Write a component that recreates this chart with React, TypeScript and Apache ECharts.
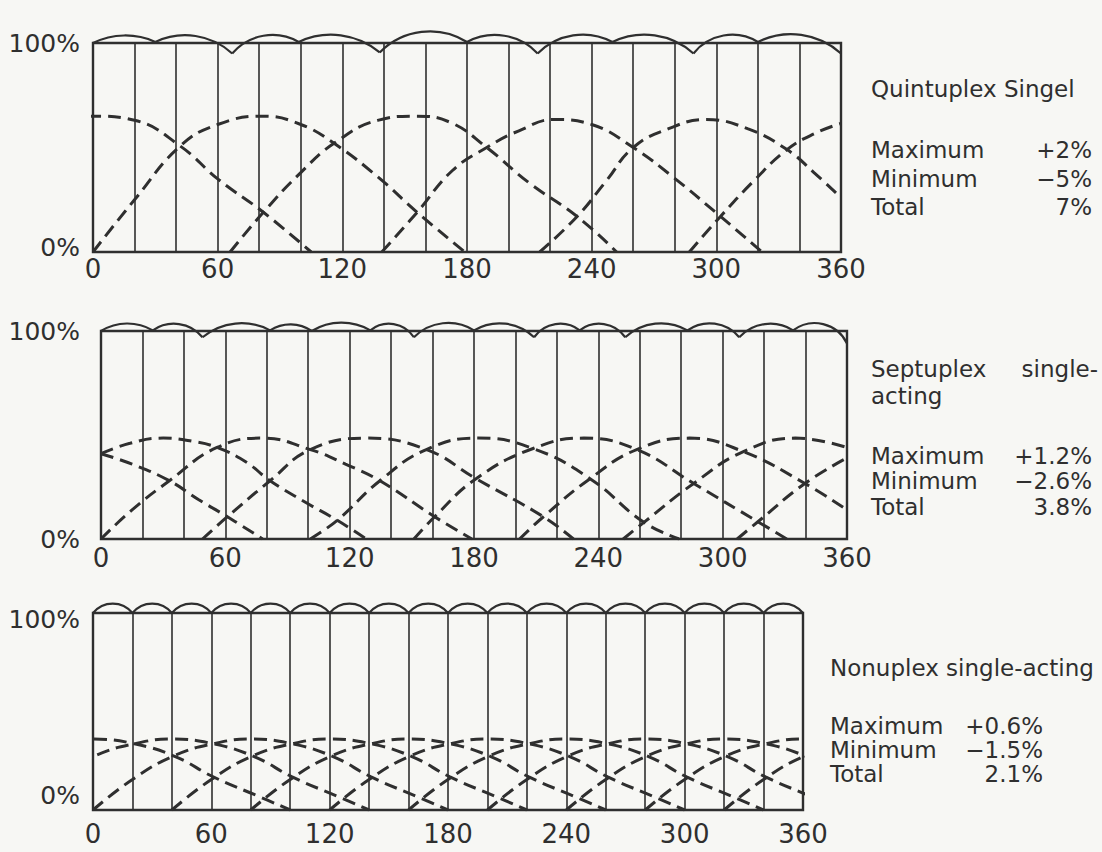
import React, { useEffect, useRef } from "react";
import * as echarts from "echarts";

const INK = "#2f2f2f";
const PAPER = "#f7f7f4";
const FONT = "DejaVu Sans, Verdana, sans-serif";

// Crank angle tick labels (degrees) and the two flow levels labelled on each panel
const angleTickLabels = [0, 60, 120, 180, 240, 300, 360];
const flowTickLabels = ["0%", "100%"];

// ---------- Quintuplex: individual cylinder flows (dashed) ----------
const quintLobes: number[][][] = [
  [[-12, 64], [0, 65], [20, 63], [42, 50.7], [60, 35], [82, 19], [105, 0]],
  [[0, 0], [20, 25], [42, 50.7], [60, 61], [82, 65], [100, 61], [116, 52], [137, 36], [156, 19], [179, 0]],
  [[66, 0], [82, 19], [100, 38], [116, 52], [137, 63], [155, 65], [172, 62], [189.5, 50], [210, 33], [233, 17], [252, 0]],
  [[139, 0], [156, 19], [173, 39], [189.5, 50], [205, 58], [222, 63.4], [240, 61], [260, 50], [279, 36], [302, 17], [322, 0]],
  [[215, 0], [233, 17], [247, 34], [260, 50], [277, 59], [295, 63.4], [315, 59], [334, 49], [347, 38], [360, 26]],
  [[287, 0], [302, 17], [318, 34], [334, 49], [348, 57], [360, 61.5]],
];
// Quintuplex: combined flow, cusp points and arc crests
const quintCusps: number[][] = [
  [0, 100], [30, 100.5], [67, 95], [99, 100.5], [138, 95.5], [180, 100.5],
  [214, 95], [250, 100.5], [289, 95], [320, 100.5], [360, 95],
];
const quintCrests: number[][] = [
  [15, 103.6], [47, 103.6], [83, 103.6], [118, 103.8], [160, 105.5],
  [197, 103.6], [232, 103.8], [269, 103.8], [305, 103.8], [340, 104],
];

// ---------- Septuplex ----------
const septLobes: number[][][] = [
  [[0, 41], [15, 36], [33, 28], [47, 19], [61, 10.7], [78, 0]],
  [[0, 41], [14, 46], [30, 48.5], [44, 47], [56, 44], [70, 37], [81.6, 28], [98, 18], [114, 9], [128, 0]],
  [[0, 0], [15, 14], [33, 28], [56, 44], [78, 48.5], [101, 43], [118, 36], [134.6, 28], [161, 10.7], [179, 0]],
  [[49, 0], [61, 10.7], [81.6, 28], [101, 43], [128, 48.5], [157, 43], [181, 29], [213.5, 10.7], [228, 0]],
  [[101, 0], [114, 9], [134.6, 28], [157, 43], [182, 48.5], [208.5, 43.5], [236, 29], [262, 8], [279, 0]],
  [[151, 0], [161, 10.7], [181, 29], [208.5, 43.5], [233, 48.5], [258.5, 43], [286, 26.7], [317, 8.3], [331, 0]],
  [[202, 0], [213.5, 10.7], [236, 29], [258.5, 43], [284, 48.5], [310, 42], [339.7, 26.7], [360, 14]],
  [[252, 0], [262, 8], [286, 26.7], [310, 42], [335, 48.5], [360, 44]],
  [[307, 0], [317, 8.3], [339.7, 26.7], [360, 39]],
];
const septCusps: number[][] = [
  [0, 100], [25, 100.3], [49, 97], [81.6, 100.3], [101.7, 100], [130, 100.3], [151, 97],
  [180, 100.3], [209, 97], [231, 100.3], [253, 97], [283, 100.3], [308, 97], [334, 100.3], [360, 94],
];
const septCrests: number[][] = [
  [12.5, 103.6], [37, 103.4], [65, 103.6], [91.5, 103.2], [116, 104], [140.5, 103.4], [165.5, 103.8],
  [194.5, 103.6], [220, 103.4], [242, 103.4], [268, 103.6], [295.5, 103.6], [321, 103.4], [347, 103.6],
];

// ---------- Nonuplex ----------
const nonLobes: number[][][] = [
  [[-39, 27.5], [-19, 33.6], [0, 36], [21, 33.6], [42, 27], [61, 16.8], [85, 6.5], [100, 0]],
  [[-40, 0], [-20, 15.5], [1, 27.5], [21, 33.6], [40, 36], [61, 33.6], [82, 27], [101, 16.8], [125, 6.5], [140, 0]],
  [[0, 0], [20, 15.5], [41, 27.5], [61, 33.6], [80, 36], [101, 33.6], [122, 27], [141, 16.8], [165, 6.5], [180, 0]],
  [[40, 0], [60, 15.5], [81, 27.5], [101, 33.6], [120, 36], [141, 33.6], [162, 27], [181, 16.8], [205, 6.5], [220, 0]],
  [[80, 0], [100, 15.5], [121, 27.5], [141, 33.6], [160, 36], [181, 33.6], [202, 27], [221, 16.8], [245, 6.5], [260, 0]],
  [[120, 0], [140, 15.5], [161, 27.5], [181, 33.6], [200, 36], [221, 33.6], [242, 27], [261, 16.8], [285, 6.5], [300, 0]],
  [[160, 0], [180, 15.5], [201, 27.5], [221, 33.6], [240, 36], [261, 33.6], [282, 27], [301, 16.8], [325, 6.5], [340, 0]],
  [[200, 0], [220, 15.5], [241, 27.5], [261, 33.6], [280, 36], [301, 33.6], [322, 27], [341, 16.8], [365, 6.5], [380, 0]],
  [[240, 0], [260, 15.5], [281, 27.5], [301, 33.6], [320, 36], [341, 33.6], [362, 27], [381, 16.8]],
  [[280, 0], [300, 15.5], [321, 27.5], [341, 33.6], [360, 36], [381, 33.6]],
  [[320, 0], [340, 15.5], [361, 27.5], [381, 33.6]],
];
const nonCusps: number[][] = [
  [0, 100], [20, 100], [40, 100], [60, 100], [80, 100], [100, 100], [120, 100], [140, 100], [160, 100], [180, 100],
  [200, 100], [220, 100], [240, 100], [260, 100], [280, 100], [300, 100], [320, 100], [340, 100], [360, 100],
];
const nonCrests: number[][] = [
  [10, 104.8], [30, 104.8], [50, 104.8], [70, 104.8], [90, 104.8], [110, 104.8], [130, 104.8], [150, 104.8], [170, 104.8],
  [190, 104.8], [210, 104.8], [230, 104.8], [250, 104.8], [270, 104.8], [290, 104.8], [310, 104.8], [330, 104.8], [350, 104.8],
];

// ---------- Side notes ----------
const quintNote = { title: ["Quintuplex Singel"], max: "+2%", min: "−5%", total: "7%" };
const septNote = { title: ["Septuplex", "single-", "acting"], max: "+1.2%", min: "−2.6%", total: "3.8%" };
const nonNote = { title: ["Nonuplex single-acting"], max: "+0.6%", min: "−1.5%", total: "2.1%" };

type Panel = {
  grid: { left: number; top: number; width: number; height: number };
  lobes: number[][][];
  cusps: number[][];
  crests: number[][];
  xMargin: number;
  yMargin: number;
  zeroShift: number;
  fullShift: number;
};

const panels: Panel[] = [
  { grid: { left: 93, top: 43, width: 748, height: 209 }, lobes: quintLobes, cusps: quintCusps, crests: quintCrests, xMargin: 4, yMargin: 13, zeroShift: 9, fullShift: 0 },
  { grid: { left: 101, top: 331, width: 746, height: 208 }, lobes: septLobes, cusps: septCusps, crests: septCrests, xMargin: 6, yMargin: 21, zeroShift: 0, fullShift: 0 },
  { grid: { left: 93, top: 613, width: 710, height: 197 }, lobes: nonLobes, cusps: nonCusps, crests: nonCrests, xMargin: 11, yMargin: 13, zeroShift: 30, fullShift: 12 },
];

// Each arc of the combined-flow curve runs cusp -> crest -> cusp, drawn as a circular arc
function arcRows(cusps: number[][], crests: number[][]) {
  return crests.map((c, i) => [cusps[i][0], cusps[i][1], c[0], c[1], cusps[i + 1][0], cusps[i + 1][1]]);
}

function renderArc(_params: any, api: any) {
  const a = api.coord([api.value(0), api.value(1)]);
  const m = api.coord([api.value(2), api.value(3)]);
  const b = api.coord([api.value(4), api.value(5)]);
  const d = 2 * (a[0] * (m[1] - b[1]) + m[0] * (b[1] - a[1]) + b[0] * (a[1] - m[1]));
  const sa = a[0] * a[0] + a[1] * a[1];
  const sm = m[0] * m[0] + m[1] * m[1];
  const sb = b[0] * b[0] + b[1] * b[1];
  const cx = (sa * (m[1] - b[1]) + sm * (b[1] - a[1]) + sb * (a[1] - m[1])) / d;
  const cy = (sa * (b[0] - m[0]) + sm * (a[0] - b[0]) + sb * (m[0] - a[0])) / d;
  const r = Math.hypot(a[0] - cx, a[1] - cy);
  const TAU = Math.PI * 2;
  const norm = (v: number) => ((v % TAU) + TAU) % TAU;
  const ang = (p: number[]) => Math.atan2(p[1] - cy, p[0] - cx);
  const a0 = ang(a);
  const am = ang(m);
  const a1 = ang(b);
  let start: number;
  let end: number;
  if (norm(am - a0) <= norm(a1 - a0)) {
    start = a0;
    end = a0 + norm(a1 - a0);
  } else {
    start = a1;
    end = a1 + norm(a0 - a1);
  }
  return {
    type: "arc",
    shape: { cx, cy, r, startAngle: start, endAngle: end, clockwise: true },
    style: { stroke: INK, lineWidth: 2.2, fill: "none" },
  };
}

function noteTexts(note: { title: string[]; max: string; min: string; total: string }, layout: any) {
  const base = { fontSize: 23, fontFamily: FONT, fill: INK };
  const el = (text: string, x: number, y: number, align = "left") => ({
    type: "text",
    x,
    y,
    silent: true,
    style: { ...base, text, align, verticalAlign: "middle", textAlign: align, textVerticalAlign: "middle" },
  });
  const out: any[] = [];
  layout.title.forEach((t: number[], i: number) => out.push(el(note.title[i], t[0], t[1], t[2] ? "right" : "left")));
  out.push(el("Maximum", layout.left, layout.rows[0]));
  out.push(el("Minimum", layout.left, layout.rows[1]));
  out.push(el("Total", layout.left, layout.rows[2]));
  out.push(el(note.max, layout.right, layout.rows[0], "right"));
  out.push(el(note.min, layout.right, layout.rows[1], "right"));
  out.push(el(note.total, layout.right, layout.rows[2], "right"));
  return out;
}

function buildOption() {
  const series: any[] = [];
  panels.forEach((p, i) => {
    p.lobes.forEach((lobe) => {
      series.push({
        type: "line",
        xAxisIndex: i,
        yAxisIndex: i,
        data: lobe,
        smooth: 0.45,
        symbol: "none",
        silent: true,
        clip: true,
        z: 3,
        lineStyle: { color: INK, width: 3, type: [13, 7], cap: "butt" },
      });
    });
    series.push({
      type: "custom",
      xAxisIndex: i,
      yAxisIndex: i,
      data: arcRows(p.cusps, p.crests),
      renderItem: renderArc,
      clip: false,
      silent: true,
      z: 4,
    });
  });

  const labelStyle = { fontSize: 25, fontFamily: FONT, color: INK };

  return {
    animation: false,
    backgroundColor: PAPER,
    grid: panels.map((p) => ({
      ...p.grid,
      show: true,
      borderColor: INK,
      borderWidth: 2.4,
      backgroundColor: "transparent",
    })),
    xAxis: panels.map((p, i) => ({
      gridIndex: i,
      type: "value",
      min: 0,
      max: 360,
      interval: 20,
      axisLine: { show: false },
      axisTick: { show: false },
      splitLine: { show: true, lineStyle: { color: INK, width: 1.6 } },
      axisLabel: {
        margin: p.xMargin,
        fontSize: 26,
        fontFamily: FONT,
        color: INK,
        showMinLabel: true,
        showMaxLabel: true,
        formatter: (v: number) => (angleTickLabels.includes(v) ? String(v) : ""),
      },
    })),
    yAxis: panels.map((p, i) => ({
      gridIndex: i,
      type: "value",
      min: 0,
      max: 100,
      interval: 100,
      axisLine: { show: false },
      axisTick: { show: false },
      splitLine: { show: false },
      axisLabel: {
        margin: p.yMargin,
        ...labelStyle,
        formatter: (v: number) => (v === 0 ? `{z|${flowTickLabels[0]}}` : `{h|${flowTickLabels[1]}}`),
        rich: {
          z: { ...labelStyle, padding: [0, 0, p.zeroShift, 0] },
          h: { ...labelStyle, padding: [p.fullShift, 0, 0, 0] },
        },
      },
    })),
    graphic: {
      elements: [
        ...noteTexts(quintNote, { title: [[871, 89]], left: 871, right: 1092, rows: [150, 179, 207] }),
        ...noteTexts(septNote, { title: [[871, 369], [1098, 369, 1], [871, 396]], left: 871, right: 1092, rows: [456, 481, 507] }),
        ...noteTexts(nonNote, { title: [[830, 668]], left: 830, right: 1043, rows: [726, 750, 774] }),
      ],
    },
    series,
  };
}

export default function App() {
  const ref = useRef<HTMLDivElement>(null);
  useEffect(() => {
    if (!ref.current) return;
    const chart = echarts.init(ref.current, undefined, { renderer: "svg" });
    chart.setOption(buildOption() as any);
    return () => chart.dispose();
  }, []);
  return (
    <div
      ref={ref}
      style={{ position: "fixed", left: 0, top: 0, width: 1102, height: 852, background: PAPER }}
    />
  );
}
